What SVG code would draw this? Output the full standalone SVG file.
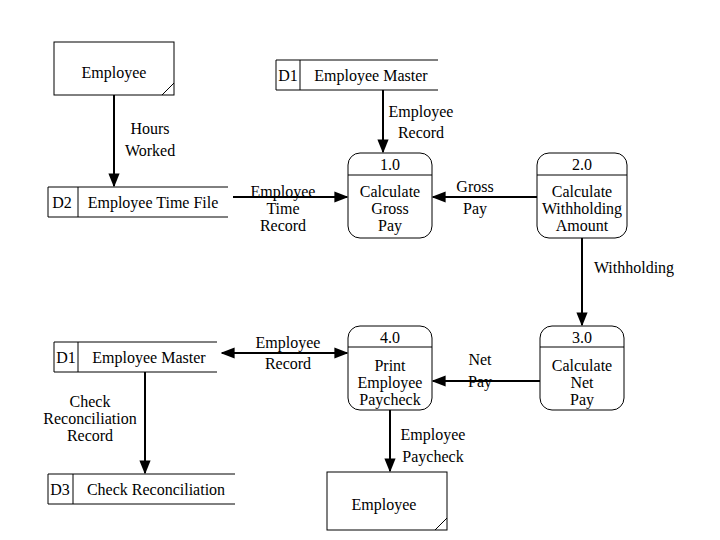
<svg xmlns="http://www.w3.org/2000/svg" width="720" height="540" viewBox="0 0 720 540">
<style>
text{font-family:"Liberation Serif","Times New Roman",serif;font-size:16px;fill:#000;text-anchor:middle}
.s{fill:none;stroke:#000;stroke-width:1}
.f{fill:none;stroke:#000;stroke-width:2}
</style>
<defs>
<marker id="a" viewBox="0 0 10 10" refX="9" refY="5" markerWidth="7" markerHeight="7" orient="auto-start-reverse"><path d="M0,1L10,5L0,9z" fill="#000"/></marker>
</defs>
<rect width="720" height="540" fill="#fff"/>
<g id="ext-employee-top"><rect class="s" x="54" y="42" width="120" height="53"/><path class="s" d="M162,95L174,83"/><text x="114" y="78">Employee</text></g>
<g id="d1-top"><path class="s" d="M438,60H276V90H438M300,60V90"/><text x="288" y="81">D1</text><text x="371" y="81">Employee Master</text></g>
<g id="d2"><path class="s" d="M228,187H48V217H228M78,187V217"/><text x="62" y="208">D2</text><text x="153" y="208">Employee Time File</text></g>
<g id="p1"><rect class="s" x="348" y="153" width="84" height="85" rx="12"/><path class="s" d="M348,175H432"/><text x="390" y="170">1.0</text><text x="390" y="197">Calculate</text><text x="390" y="214">Gross</text><text x="390" y="231">Pay</text></g>
<g id="p2"><rect class="s" x="537" y="153" width="90" height="85" rx="12"/><path class="s" d="M537,175H627"/><text x="582" y="170">2.0</text><text x="582" y="197">Calculate</text><text x="582" y="214">Withholding</text><text x="582" y="231">Amount</text></g>
<g id="p3"><rect class="s" x="540" y="326" width="84" height="84" rx="12"/><path class="s" d="M540,347H624"/><text x="582" y="343">3.0</text><text x="582" y="371">Calculate</text><text x="582" y="388">Net</text><text x="582" y="405">Pay</text></g>
<g id="p4"><rect class="s" x="348" y="326" width="84" height="84" rx="12"/><path class="s" d="M348,347H432"/><text x="390" y="343">4.0</text><text x="390" y="371">Print</text><text x="390" y="388">Employee</text><text x="390" y="405">Paycheck</text></g>
<g id="d1-bottom"><path class="s" d="M217,342H54V372H217M78,342V372"/><text x="66" y="363">D1</text><text x="149" y="363">Employee Master</text></g>
<g id="d3"><path class="s" d="M235,474H48V504H235M73,474V504"/><text x="60" y="495">D3</text><text x="156" y="495">Check Reconciliation</text></g>
<g id="ext-employee-bottom"><rect class="s" x="327" y="472" width="120" height="58"/><path class="s" d="M435,530L447,518"/><text x="384" y="510">Employee</text></g>
<g id="connectors">
<path class="f" d="M383,90V152" marker-end="url(#a)"/>
<path class="f" d="M114,95V186" marker-end="url(#a)"/>
<path class="f" d="M233,197H347" marker-end="url(#a)"/>
<path class="f" d="M537,197H433" marker-end="url(#a)"/>
<path class="f" d="M582,238V325" marker-end="url(#a)"/>
<path class="f" d="M540,381H433" marker-end="url(#a)"/>
<path class="f" d="M222,353H347" marker-start="url(#a)" marker-end="url(#a)"/>
<path class="f" d="M145,372V473" marker-end="url(#a)"/>
<path class="f" d="M390,410V471" marker-end="url(#a)"/>
<text x="421" y="117">Employee</text><text x="421" y="138">Record</text>
<text x="150" y="134">Hours</text><text x="150" y="156">Worked</text>
<text x="283" y="197">Employee</text><text x="283" y="214">Time</text><text x="283" y="231">Record</text>
<text x="475" y="192">Gross</text><text x="475" y="214">Pay</text>
<text x="634" y="273">Withholding</text>
<text x="480" y="365">Net</text><text x="480" y="387">Pay</text>
<text x="288" y="348">Employee</text><text x="288" y="369">Record</text>
<text x="90" y="407">Check</text><text x="90" y="424">Reconciliation</text><text x="90" y="441">Record</text>
<text x="433" y="440">Employee</text><text x="433" y="462">Paycheck</text>
</g>
</svg>
